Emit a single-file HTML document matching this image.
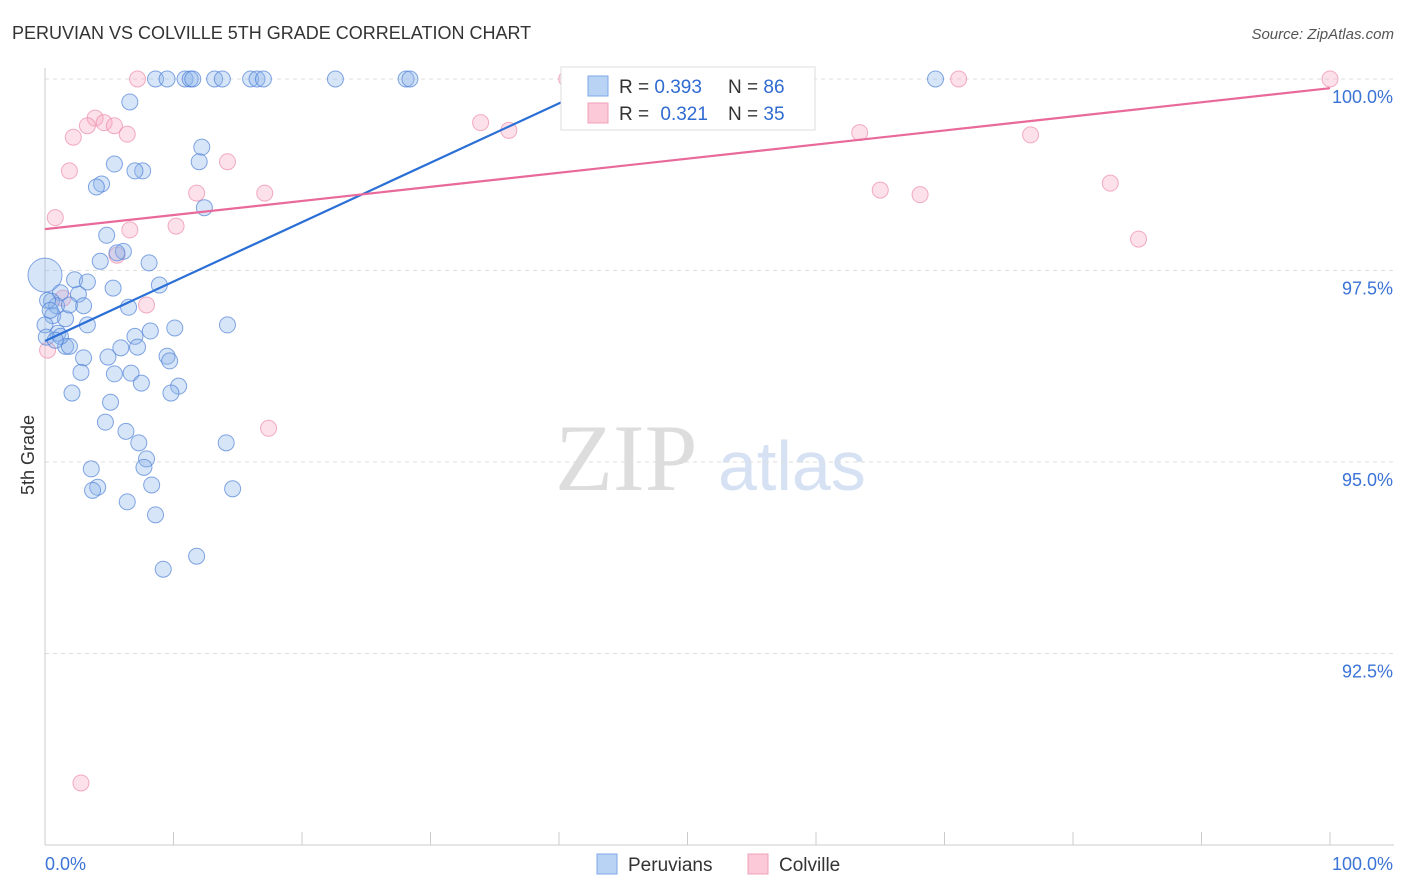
<!DOCTYPE html>
<html><head><meta charset="utf-8"><style>
body{margin:0;background:#fff;font-family:"Liberation Sans",sans-serif;}
svg{display:block}
</style></head><body>
<svg id="c" width="1406" height="892">
<text x="12" y="39" font-size="18" fill="#333">PERUVIAN VS COLVILLE 5TH GRADE CORRELATION CHART</text>
<text x="1394" y="39" font-size="15" fill="#555" text-anchor="end" font-style="italic">Source: ZipAtlas.com</text>
<text x="34" y="455" font-size="18" fill="#333" transform="rotate(-90 34 455)" text-anchor="middle">5th Grade</text>
<text x="555" y="490" font-size="95" fill="#ddd" font-family="Liberation Serif,serif">ZIP</text>
<text x="718" y="490" font-size="70" fill="#d6e2f4">atlas</text>
<g id="grid"></g><g id="pts"></g><g id="trend"></g>
<g>
<rect x="561" y="67" width="254" height="63" fill="#fff" stroke="#ddd"/>
<rect x="588" y="76" width="20" height="20" fill="#b9d3f5" stroke="#7fa9e6"/>
<rect x="588" y="103" width="20" height="20" fill="#fbc9d8" stroke="#f1a0b9"/>
<text x="619" y="93" font-size="19" fill="#333">R = <tspan fill="#2f6bd1">0.393</tspan><tspan x="728">N = </tspan><tspan fill="#2f6bd1">86</tspan></text>
<text x="619" y="120" font-size="19" fill="#333">R = <tspan fill="#2f6bd1" dx="6">0.321</tspan><tspan x="728">N = </tspan><tspan fill="#2f6bd1">35</tspan></text>
</g>
<g>
<rect x="597" y="854" width="20" height="20" fill="#b9d3f5" stroke="#7fa9e6"/>
<text x="628" y="871" font-size="19" fill="#333">Peruvians</text>
<rect x="748" y="854" width="20" height="20" fill="#fbc9d8" stroke="#f1a0b9"/>
<text x="779" y="871" font-size="19" fill="#333">Colville</text>
</g>
</svg>
<script>
const blueX=[8.6,9.5,10.9,11.3,11.5,13.2,13.8,16.0,16.5,17.0,22.6,28.1,28.4,69.3,6.6,12.2,5.4,12.0,7.6,7.0,4.4,4.0,12.4,4.8,6.1,5.6,4.3,8.1,0,2.3,3.3,8.9,5.3,1.2,2.6,0.5,0.9,3.0,6.5,0.6,1.6,3.3,10.1,14.2,8.2,7.0,0,1.0,0.1,1.6,1.9,5.9,7.2,4.9,9.5,9.7,3.0,5.4,2.8,6.7,7.5,10.4,9.8,2.1,5.1,4.7,6.3,7.3,14.1,7.9,7.7,3.6,8.3,4.1,3.7,14.6,6.4,8.6,11.8,9.2,0.2,0.4,1.2,0.8,1.9];
const blueY=[100,100,100,100,100,100,100,100,100,100,100,100,100,100,99.70,99.11,98.89,98.92,98.80,98.80,98.63,98.59,98.32,97.96,97.75,97.73,97.62,97.60,97.44,97.38,97.35,97.31,97.27,97.21,97.19,97.10,97.04,97.04,97.02,96.91,96.87,96.79,96.75,96.79,96.71,96.64,96.79,96.68,96.63,96.51,96.51,96.49,96.50,96.37,96.38,96.32,96.36,96.15,96.17,96.16,96.03,95.99,95.90,95.90,95.78,95.52,95.40,95.25,95.25,95.04,94.93,94.91,94.70,94.67,94.63,94.65,94.48,94.31,93.77,93.60,97.11,96.98,96.64,96.59,97.05];
const pinkX=[7.2,40.6,42.2,46.0,53.5,71.1,100,3.9,4.6,3.3,5.4,2.2,6.4,33.9,36.1,63.4,76.7,14.2,1.9,11.8,17.1,65.0,68.1,82.9,0.8,10.2,6.6,5.6,85.1,1.4,7.9,0.2,17.4,2.8];
const pinkY=[100,100,100,100,100,100,100,99.49,99.43,99.39,99.39,99.24,99.28,99.43,99.33,99.30,99.27,98.92,98.80,98.51,98.51,98.55,98.49,98.64,98.19,98.08,98.03,97.70,97.91,97.14,97.05,96.46,95.44,90.81];
const blueTrend=[[0,96.58],[44.1,100]];
const pinkTrend=[[0,98.04],[100,99.88]];
const yTicks=[100,97.5,95,92.5];
const yTickLabels=["100.0%","97.5%","95.0%","92.5%"];
const NS="http://www.w3.org/2000/svg";
const sx=v=>45+v*12.85, sy=v=>79+(100-v)*76.6;
function mk(t,a,p){const e=document.createElementNS(NS,t);for(const k in a)e.setAttribute(k,a[k]);p.appendChild(e);return e;}
const g=document.getElementById('grid');
yTicks.forEach((t,i)=>{
 const l=mk('line',{x1:45,x2:1394,y1:sy(t),y2:sy(t),stroke:'#ddd','stroke-dasharray':'4,4'},g);
 
 
 const tx=mk('text',{x:1393,y:sy(t)+24,'font-size':18,fill:'#3b73d6','text-anchor':'end'},g);
 tx.textContent=yTickLabels[i];
 
 
});
mk('line',{x1:45,x2:45,y1:68,y2:845,stroke:'#ccc'},g);
mk('line',{x1:45,x2:1394,y1:845,y2:845,stroke:'#ccc'},g);
for(let i=0;i<=10;i++){const l=mk('line',{x1:sx(i*10),x2:sx(i*10),y1:832,y2:845,stroke:'#ccc'},g);
 
 }
const x0=mk('text',{x:45,y:870,'font-size':18,fill:'#3b73d6'},g);x0.textContent='0.0%';


const x1=mk('text',{x:1393,y:870,'font-size':18,fill:'#3b73d6','text-anchor':'end'},g);x1.textContent='100.0%';


const p=document.getElementById('pts');
pinkX.forEach((x,i)=>{const c=mk('circle',{cx:sx(x),cy:sy(pinkY[i]),r:8,fill:'rgba(248,170,195,0.35)',stroke:'rgba(236,140,170,0.7)'},p);
 
 });
blueX.forEach((x,i)=>{const c=mk('circle',{cx:sx(x),cy:sy(blueY[i]),r:i==28?17:8,fill:'rgba(140,180,235,0.35)',stroke:'rgba(80,130,215,0.7)'},p);
 
 });
const tr=document.getElementById('trend');
const b=mk('line',{x1:sx(blueTrend[0][0]),y1:sy(blueTrend[0][1]),x2:sx(blueTrend[1][0]),y2:sy(blueTrend[1][1]),stroke:'#2a6fd6','stroke-width':2.2},tr);


const pk=mk('line',{x1:sx(pinkTrend[0][0]),y1:sy(pinkTrend[0][1]),x2:sx(pinkTrend[1][0]),y2:sy(pinkTrend[1][1]),stroke:'#e8699a','stroke-width':2.2},tr);


</script>
</body></html>
